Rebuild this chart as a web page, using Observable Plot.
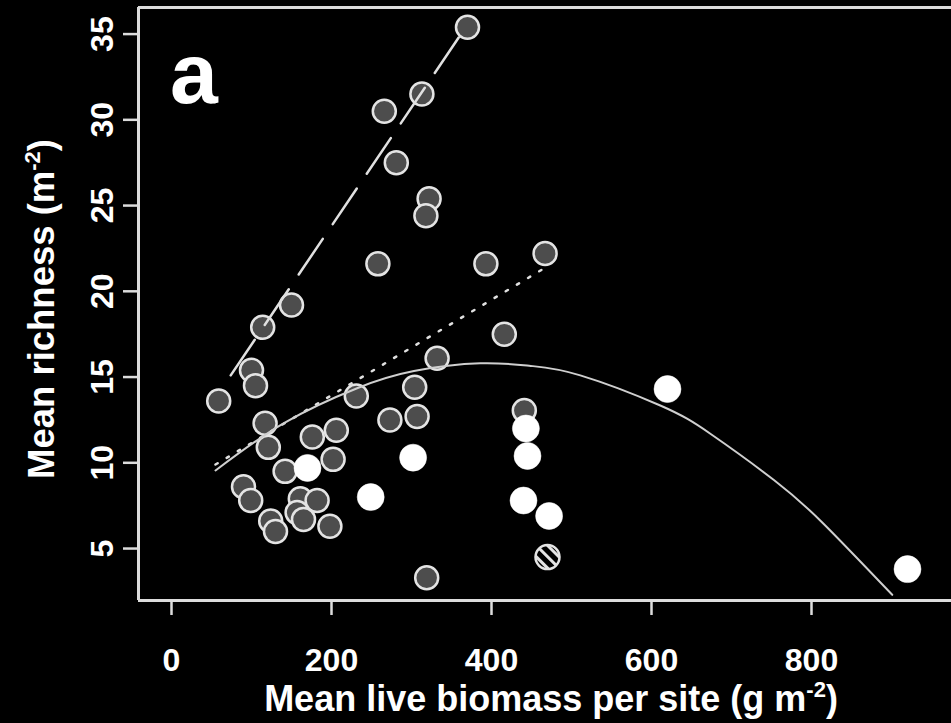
<!DOCTYPE html>
<html>
<head>
<meta charset="utf-8">
<script src="https://cdn.jsdelivr.net/npm/d3@7"></script>
<script src="https://cdn.jsdelivr.net/npm/@observablehq/plot@0.6"></script>
<style>
html, body { margin: 0; padding: 0; background: #000; }
#chart svg { display: block; }
</style>
</head>
<body>
<div id="chart"></div>
<script>
// Tick labels
const xTicks = [0, 200, 400, 600, 800];
const yTicks = [5, 10, 15, 20, 25, 30, 35];
const xDomain = [-41.25, 975];
const yDomain = [1.97, 36.55];

// Gray (filled dark) sites
const grayBiomass = [370, 313, 266, 281, 322, 318, 258, 393, 467, 150, 114, 416, 332, 100, 105, 59, 304, 231, 307, 273, 441, 117, 121, 176, 206, 202, 142, 90, 99, 161, 157, 182, 165, 198, 124, 130, 319];
const grayRichness = [35.4, 31.5, 30.5, 27.5, 25.4, 24.4, 21.6, 21.6, 22.2, 19.2, 17.9, 17.5, 16.1, 15.4, 14.5, 13.6, 14.4, 13.9, 12.7, 12.5, 13.05, 12.3, 10.9, 11.5, 11.9, 10.2, 9.5, 8.6, 7.8, 7.9, 7.1, 7.8, 6.7, 6.3, 6.6, 6.0, 3.3];

// White (open) sites
const whiteBiomass = [170, 249, 302, 443, 445, 440, 472, 620, 920];
const whiteRichness = [9.7, 8.0, 10.3, 12.0, 10.4, 7.8, 6.9, 14.3, 3.8];

// Hatched site
const hatchBiomass = [470];
const hatchRichness = [4.5];

// Fitted lines
const dashBiomass = [74, 359];
const dashRichness = [15.1, 34.8];
const dotBiomass = [55, 468];
const dotRichness = [9.9, 21.4];
const curveBiomass = [55, 140, 232, 303, 386, 449, 511, 611, 674, 753, 815, 901];
const curveRichness = [9.55, 12.3, 14.35, 15.35, 15.8, 15.65, 15.1, 13.34, 11.68, 9.0, 6.45, 2.3];

const zip = (xs, ys) => xs.map((x, i) => ({x, y: ys[i]}));
const gray = zip(grayBiomass, grayRichness);
const white = zip(whiteBiomass, whiteRichness);
const hatch = zip(hatchBiomass, hatchRichness);
const dash = zip(dashBiomass, dashRichness);
const dot = zip(dotBiomass, dotRichness);
const curve = zip(curveBiomass, curveRichness);

const frameColor = "#dcdcdc";
const lineColor = "#e0e0e0";

const svg = Plot.plot({
  width: 951,
  height: 723,
  marginLeft: 138,
  marginRight: 0,
  marginTop: 7,
  marginBottom: 123,
  style: {
    background: "black",
    color: "white",
    fontFamily: "'Liberation Sans', Arial, sans-serif",
    fontWeight: "bold",
    fontSize: "32px"
  },
  x: {domain: xDomain},
  y: {domain: yDomain},
  marks: [
    Plot.ruleY([yDomain[0]], {stroke: frameColor, strokeWidth: 3}),
    Plot.ruleY([yDomain[1]], {stroke: frameColor, strokeWidth: 3}),
    Plot.ruleX([xDomain[0]], {stroke: frameColor, strokeWidth: 3}),
    Plot.axisX(xTicks, {tickSize: 15, tickPadding: 33, stroke: frameColor, strokeWidth: 2.5, fill: "white", label: null}),
    Plot.axisY(yTicks, {tickSize: 15, tickPadding: 11, tickRotate: -90, stroke: frameColor, strokeWidth: 2.5, fill: "white", label: null}),
    Plot.dot(gray, {x: "x", y: "y", r: 11.5, fill: "#4d4d4d", stroke: "#e4e4e4", strokeWidth: 2.5}),
    Plot.dot(white, {x: "x", y: "y", r: 13.5, fill: "white", stroke: "white", strokeWidth: 0.5}),
    Plot.dot(hatch, {x: "x", y: "y", r: 12, fill: "url(#hatch)", stroke: "#e4e4e4", strokeWidth: 2.5}),
    Plot.line(dash, {x: "x", y: "y", stroke: lineColor, strokeWidth: 2.5, strokeDasharray: "43,17.8"}),
    Plot.line(dot, {x: "x", y: "y", stroke: lineColor, strokeWidth: 2.5, strokeDasharray: "2.5,10.5"}),
    Plot.line(curve, {x: "x", y: "y", stroke: "#cfcfcf", strokeWidth: 2, curve: "natural"})
  ]
});

const s = d3.select(svg);
const defs = s.insert("defs", ":first-child");
const pat = defs.append("pattern")
  .attr("id", "hatch")
  .attr("patternUnits", "userSpaceOnUse")
  .attr("width", 8).attr("height", 8)
  .attr("patternTransform", "rotate(-45)");
pat.append("rect").attr("width", 8).attr("height", 8).attr("fill", "black");
pat.append("rect").attr("x", 0).attr("width", 3).attr("height", 8).attr("fill", "#e4e4e4");

// Panel letter
s.append("text")
  .attr("x", 170).attr("y", 103)
  .attr("text-anchor", "start")
  .attr("fill", "white")
  .attr("font-size", 86)
  .attr("font-weight", "bold")
  .text("a");

// X axis title
const xt = s.append("text")
  .attr("x", 551).attr("y", 711)
  .attr("text-anchor", "middle")
  .attr("fill", "white")
  .attr("font-size", 36)
  .attr("font-weight", "bold");
xt.append("tspan").text("Mean live biomass per site (g m");
xt.append("tspan").attr("dy", -14).attr("font-size", 22).text("-2");
xt.append("tspan").attr("dy", 14).text(")");

// Y axis title
const yt = s.append("text")
  .attr("transform", "translate(54,309) rotate(-90)")
  .attr("text-anchor", "middle")
  .attr("fill", "white")
  .attr("font-size", 36.5)
  .attr("font-weight", "bold");
yt.append("tspan").text("Mean richness (m");
yt.append("tspan").attr("dy", -14).attr("font-size", 22).text("-2");
yt.append("tspan").attr("dy", 14).text(")");

document.getElementById("chart").appendChild(svg);
</script>
</body>
</html>
